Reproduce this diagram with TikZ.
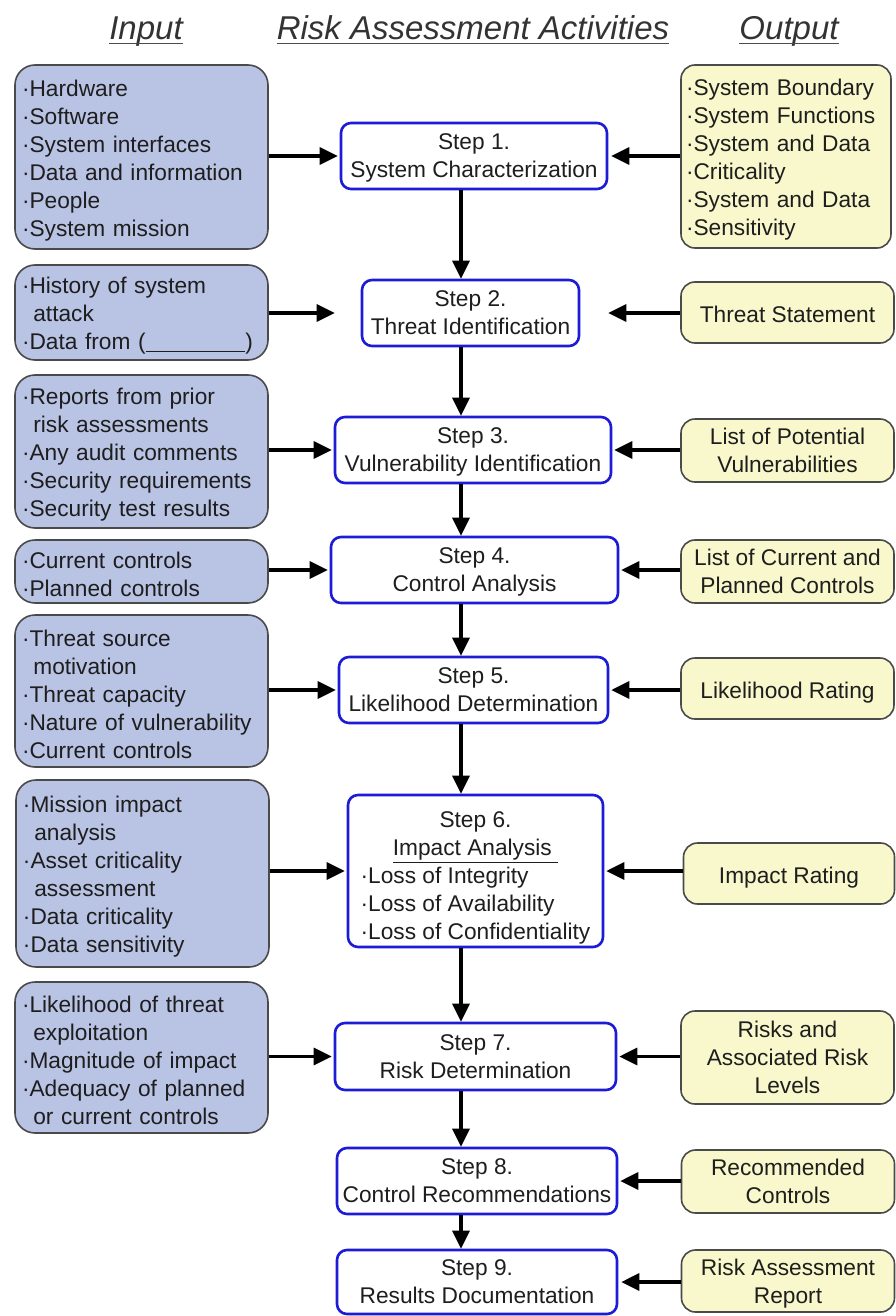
\documentclass[tikz,border=0pt]{standalone}
\usepackage{fontspec}
\setmainfont{Liberation Sans}
\usetikzlibrary{arrows.meta,calc}
\definecolor{inputfill}{HTML}{B9C3E4}
\definecolor{outputfill}{HTML}{F8F8CC}
\definecolor{stepblue}{HTML}{1C1CD6}
\definecolor{boxedge}{HTML}{4A4A4A}
\definecolor{inktext}{HTML}{1E1E1E}
\newcommand{\bul}{\textperiodcentered}
\newcommand{\contline}{\hspace*{0.5em}}

\begin{document}
\begin{tikzpicture}[x=1pt,y=-1pt,
  every node/.style={font=\fontsize{22.7}{28}\selectfont, text=inktext},
  heading/.style={font=\fontsize{33}{38}\selectfont\itshape, text=black!80, inner sep=0pt, anchor=base},
  headrule/.style={line width=1.4pt, draw=black!70},
  % lists: a taller first line lowers the block to sit mid-box
  listtext/.style={align=left, execute at begin node={\rule{0pt}{23pt}}},
  inbox/.style={draw=boxedge, line width=1.6pt, fill=inputfill, rounded corners=20pt,
    minimum width=253pt, text width=239pt, inner xsep=7pt, inner ysep=0pt, listtext},
  outbox/.style={draw=boxedge, line width=1.6pt, fill=outputfill, rounded corners=14pt,
    minimum width=213pt, align=center, inner sep=0pt, text depth=0pt,
    execute at begin node={\rule{0pt}{19pt}}},
  outlist/.style={draw=boxedge, line width=1.6pt, fill=outputfill, rounded corners=14pt,
    inner xsep=5pt, inner ysep=0pt, listtext},
  stepbox/.style={draw=stepblue, line width=2.6pt, fill=white, rounded corners=10pt,
    align=center, inner sep=0pt, text depth=0pt,
    execute at begin node={\rule{0pt}{21pt}}},
  conn/.style={line width=3.2pt, draw=black, -{Triangle[length=18pt,width=17pt]}}
]
\useasboundingbox[fill=white] (0,0) rectangle (896,1316);

% column headings
\node[heading] (hin)  at (146,40) {Input};
\node[heading] (hact) at (473,40) {Risk Assessment Activities};
\node[heading] (hout) at (789,40) {Output};
\foreach \h in {hin,hact,hout}
  \draw[headrule] ([yshift=-3.5pt]\h.base west) -- ([yshift=-3.5pt]\h.base east);

% spine of the vertical flow
\coordinate (spine) at (461,0);

% risk assessment steps
\node[stepbox, minimum width=266pt, minimum height=66pt] (s1) at (474,156)
  {Step 1.\\System Characterization};
\node[stepbox, minimum width=217pt, minimum height=66pt] (s2) at (470.5,313)
  {Step 2.\\Threat Identification};
\node[stepbox, minimum width=276pt, minimum height=66pt] (s3) at (473,450)
  {Step 3.\\Vulnerability Identification};
\node[stepbox, minimum width=287pt, minimum height=66pt] (s4) at (474.5,570)
  {Step 4.\\Control Analysis};
\node[stepbox, minimum width=269pt, minimum height=66pt] (s5) at (473.5,690)
  {Step 5.\\Likelihood Determination};
\node[stepbox, minimum width=255pt, minimum height=152pt] (s6) at (475.5,871)
  {\raisebox{-3pt}[\height][\depth]{\begin{tabular}[b]{@{}l@{}}
    \multicolumn{1}{@{}c@{}}{Step 6.}\\
    \multicolumn{1}{@{}c@{}}{\underline{Impact Analysis\ }}\\
    \bul Loss of Integrity\\
    \bul Loss of Availability\\
    \bul Loss of Confidentiality
  \end{tabular}}};
\node[stepbox, minimum width=281pt, minimum height=67pt] (s7) at (475.5,1056.5)
  {Step 7.\\Risk Determination};
\node[stepbox, minimum width=280pt, minimum height=66pt] (s8) at (477,1181)
  {Step 8.\\Control Recommendations};
\node[stepbox, minimum width=280pt, minimum height=64pt] (s9) at (477,1282)
  {Step 9.\\Results Documentation};

% inputs
\node[inbox, minimum height=184pt] (in1) at (141.5,157)
  {\bul Hardware\\\bul Software\\\bul System interfaces\\\bul Data and information\\\bul People\\\bul System mission};
\node[inbox, minimum height=95pt] (in2) at (141.5,312.5)
  {\bul History of system\\\contline attack\\\mbox{\bul Data from (\underline{\hspace*{4.4em}})}};
\node[inbox, minimum height=153pt] (in3) at (141.5,451.5)
  {\bul Reports from prior\\\contline risk assessments\\\bul Any audit comments\\\bul Security requirements\\\bul Security test results};
\node[inbox, minimum height=63pt] (in4) at (141.5,571.5)
  {\bul Current controls\\\bul Planned controls};
\node[inbox, minimum height=152pt] (in5) at (141.5,691)
  {\bul Threat source\\\contline motivation\\\bul Threat capacity\\\bul Nature of vulnerability\\\bul Current controls};
\node[inbox, minimum height=187pt] (in6) at (142.5,873.5)
  {\bul Mission impact\\\contline analysis\\\bul Asset criticality\\\contline assessment\\\bul Data criticality\\\bul Data sensitivity};
\node[inbox, minimum height=151pt] (in7) at (141.5,1057.5)
  {\bul Likelihood of threat\\\contline exploitation\\\bul Magnitude of impact\\\bul Adequacy of planned\\\contline or current controls};

% outputs
\node[outlist, minimum width=210pt, minimum height=183pt, text width=200pt] (o1) at (786,156.5)
  {\bul System Boundary\\\bul System Functions\\\bul System and Data\\\bul Criticality\\\bul System and Data\\\bul Sensitivity};
\node[outbox, minimum height=61pt] (o2) at (787.5,312.5) {Threat Statement};
\node[outbox, minimum height=63pt] (o3) at (787.5,450.5) {List of Potential\\Vulnerabilities};
\node[outbox, minimum height=63pt] (o4) at (787.5,571.5) {List of Current and\\Planned Controls};
\node[outbox, minimum height=61pt] (o5) at (787.5,688.5) {Likelihood Rating};
\node[outbox, minimum height=61pt, minimum width=211pt] (o6) at (789,873.5) {Impact Rating};
\node[outbox, minimum height=93pt] (o7) at (787.5,1057.5) {Risks and\\Associated Risk\\Levels};
\node[outbox, minimum height=63pt] (o8) at (788,1181.5) {Recommended\\Controls};
\node[outbox, minimum height=62pt] (o9) at (788,1281) {Risk Assessment\\Report};

% flow between steps
\draw[conn] (s1.south -| spine) -- (s2.north -| spine);
\draw[conn] (s2.south -| spine) -- (s3.north -| spine);
\draw[conn] (s3.south -| spine) -- (s4.north -| spine);
\draw[conn] (s4.south -| spine) -- (s5.north -| spine);
\draw[conn] (s5.south -| spine) -- (s6.north -| spine);
\draw[conn] (s6.south -| spine) -- (s7.north -| spine);
\draw[conn] (s7.south -| spine) -- (s8.north -| spine);
\draw[conn] (s8.south -| spine) -- (s9.north -| spine);

% inputs feeding the steps
\draw[conn, shorten >=2pt] (in1.east |- s1) -- (s1.west);
\draw[conn, shorten >=26pt] (in2.east |- s2) -- (s2.west);
\draw[conn, shorten >=2pt] (in3.east |- s3) -- (s3.west);
\draw[conn, shorten >=2pt] (in4.east |- s4) -- (s4.west);
\draw[conn, shorten >=2pt] (in5.east |- s5) -- (s5.west);
\draw[conn, shorten >=2pt] (in6.east |- s6) -- (s6.west);
\draw[conn, shorten >=2pt] (in7.east |- s7) -- (s7.west);

% outputs produced by the steps
\draw[conn, shorten >=3pt] (o1.west |- s1) -- (s1.east);
\draw[conn, shorten >=28pt] (o2.west |- s2) -- (s2.east);
\draw[conn, shorten >=2pt] (o3.west |- s3) -- (s3.east);
\draw[conn, shorten >=2pt] (o4.west |- s4) -- (s4.east);
\draw[conn, shorten >=2pt] (o5.west |- s5) -- (s5.east);
\draw[conn, shorten >=2pt] (o6.west |- s6) -- (s6.east);
\draw[conn, shorten >=2pt] (o7.west |- s7) -- (s7.east);
\draw[conn, shorten >=2pt] (o8.west |- s8) -- (s8.east);
\draw[conn, shorten >=3pt] (o9.west |- s9) -- (s9.east);
\end{tikzpicture}
\end{document}
